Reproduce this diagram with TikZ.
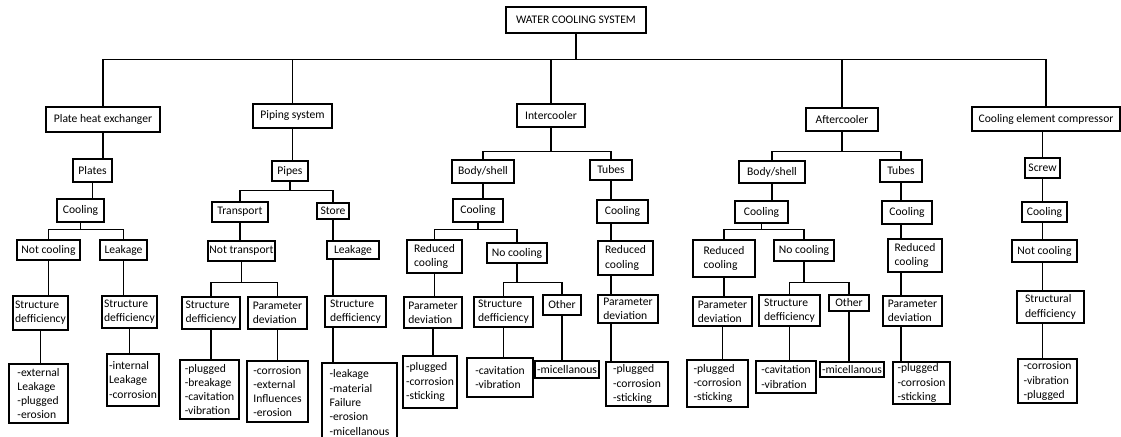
\documentclass[tikz,border=0pt]{standalone}
\usepackage{fontspec}
\setmainfont{Carlito}
\def\treebox#1(#2,#3)(#4,#5)#6% Syntax: name (left,top) (right,bottom) {text}
    { \node[box, minimum width={(#4-#2)*0.03cm}, minimum height={(#5-#3)*0.03cm}] (#1) at ({(#2+#4)/2},{(#3+#5)/2}) {#6}; }

\begin{document}
\begin{tikzpicture}[x=0.03cm, y=-0.03cm, line width=0.9pt,
    box/.style={draw, align=left, inner sep=1pt, font=\fontsize{9.9pt}{12.2pt}\selectfont}]
   \useasboundingbox (0,0) rectangle (1121,436);

   \treebox{wcs}(506,7)(646,33){WATER COOLING SYSTEM}

   % first level
   \treebox{phe}(46,107)(160,132){Plate heat exchanger}
   \treebox{pip}(253,104)(332,128){Piping system}
   \treebox{ic}(517,104)(585,127){Intercooler}
   \treebox{ac}(806,108)(878,131){Aftercooler}
   \treebox{cec}(972,107)(1120,131){Cooling element compressor}
   \draw (wcs.south) -- ++(0,26) -| (phe.north);
   \draw (wcs.south) -- ++(0,26) -| (pip.north);
   \draw (wcs.south) -- ++(0,26) -| (ic.north);
   \draw (wcs.south) -- ++(0,26) -| (ac.north);
   \draw (wcs.south) -- ++(0,26) -| (cec.north);

   % plate heat exchanger
   \treebox{plates}(73,159)(112,182){Plates}
   \treebox{coolA}(57,199)(104,222){Cooling}
   \treebox{notcoolA}(17,240)(80,260){Not cooling}
   \treebox{leakA}(100,240)(147,260){Leakage}
   \treebox{structA}(13,296)(68,330){Structure\\defficiency}
   \treebox{structB}(102,296)(157,328){Structure\\defficiency}
   \treebox{listA}(9,364)(68,423){-external\\Leakage\\-plugged\\-erosion}
   \treebox{listB}(107,354)(159,406){-internal\\Leakage\\-corrosion}
   \draw (phe.south) -- (phe.south |- plates.north);
   \draw (plates.south) -- (plates.south |- coolA.north);
   \draw (coolA.south) -- ++(0,7) -| (notcoolA.north);
   \draw (coolA.south) -- ++(0,7) -| (leakA.north);
   \draw (notcoolA.south) -- (notcoolA.south |- structA.north);
   \draw (leakA.south) -- (leakA.south |- structB.north);
   \draw (structA.south) -- (structA.south |- listA.north);
   \draw (structB.south) -- (structB.south |- listB.north);

   % piping system
   \treebox{pipes}(272,161)(308,181){Pipes}
   \treebox{transport}(212,202)(268,222){Transport}
   \treebox{store}(317,203)(349,219){Store}
   \treebox{nottrans}(208,241)(275,261){Not transport}
   \treebox{leakC}(327,241)(379,259){Leakage}
   \treebox{structC}(182,297)(240,329){Structure\\defficiency}
   \treebox{paramC}(248,297)(307,329){Parameter\\deviation}
   \treebox{structD}(325,296)(386,327){Structure\\defficiency}
   \treebox{listC}(180,360)(239,419){-plugged\\-breakage\\-cavitation\\-vibration}
   \treebox{listD}(247,361)(308,422){-corrosion\\-external\\Influences\\-erosion}
   \treebox{listE}(322,363)(397,442){-leakage\\-material\\Failure\\-erosion\\-micellanous}
   \draw (pip.south) -- (pip.south |- pipes.north);
   \draw (pipes.south) -- ++(0,9) -| (transport.north);
   \draw (pipes.south) -- ++(0,9) -| (store.north);
   \draw (transport.south) -- (transport.south |- nottrans.north);
   \draw (nottrans.south) -- ++(0,21) -| (structC.north);
   \draw (nottrans.south) -- ++(0,21) -| (paramC.north);
   \draw (structC.south) -- (structC.south |- listC.north);
   \draw (paramC.south) -- (paramC.south |- listD.north);
   \draw (store.south) -- (store.south |- leakC.north);
   \draw (leakC.south -| store) -- (structD.north -| store);
   \draw (structD.south -| store) -- (listE.north -| store);

   % intercooler
   \treebox{bodyE}(452,160)(514,183){Body/shell}
   \treebox{tubesE}(590,160)(632,180){Tubes}
   \treebox{coolE}(453,199)(503,222){Cooling}
   \treebox{coolF}(597,200)(648,223){Cooling}
   \treebox{reduE}(407,240)(462,273){Reduced\\cooling}
   \treebox{nocoolE}(487,243)(547,263){No cooling}
   \treebox{reduF}(598,241)(653,275){Reduced\\cooling}
   \treebox{paramE}(404,297)(462,328){Parameter\\deviation}
   \treebox{structE}(474,297)(533,327){Structure\\defficiency}
   \treebox{otherE}(543,295)(581,315){Other}
   \treebox{paramF}(598,295)(658,323){Parameter\\deviation}
   \treebox{listF}(403,356)(457,408){-plugged\\-corrosion\\-sticking}
   \treebox{listG}(467,358)(533,397){-cavitation\\-vibration}
   \treebox{listH}(535,361)(599,378){-micellanous}
   \treebox{listI}(606,362)(668,406){-plugged\\-corrosion\\-sticking}
   \draw (ic.south) -- ++(0,24) -| (bodyE.north);
   \draw (ic.south) -- ++(0,24) -| (tubesE.north);
   \draw (bodyE.south) -- (bodyE.south |- coolE.north);
   \draw (tubesE.south) -- (tubesE.south |- coolF.north);
   \draw (coolE.south) -- ++(0,7) -| (reduE.north);
   \draw (coolE.south) -- ++(0,7) -| (nocoolE.north);
   \draw (reduE.south) -- (reduE.south |- paramE.north);
   \draw (paramE.south) -- (paramE.south |- listF.north);
   \draw (nocoolE.south) -- ++(0,19) -| (structE.north);
   \draw (nocoolE.south) -- ++(0,19) -| (otherE.north);
   \draw (structE.south) -- (structE.south |- listG.north);
   \draw (otherE.south) -- (otherE.south |- listH.north);
   \draw (coolF.south -| tubesE) -- (reduF.north -| tubesE);
   \draw (reduF.south -| tubesE) -- (paramF.north -| tubesE);
   \draw (paramF.south -| tubesE) -- (listI.north -| tubesE);

   % aftercooler
   \treebox{bodyJ}(739,161)(805,183){Body/shell}
   \treebox{tubesJ}(880,160)(922,182){Tubes}
   \treebox{coolJ}(735,201)(788,223){Cooling}
   \treebox{coolK}(882,201)(932,224){Cooling}
   \treebox{reduJ}(693,240)(755,277){Reduced\\cooling}
   \treebox{nocoolJ}(774,240)(834,261){No cooling}
   \treebox{reduK}(888,239)(942,272){Reduced\\cooling}
   \treebox{paramJ}(693,297)(752,326){Parameter\\deviation}
   \treebox{structJ}(759,295)(820,326){Structure\\defficiency}
   \treebox{otherJ}(829,295)(869,311){Other}
   \treebox{paramK}(883,296)(942,326){Parameter\\deviation}
   \treebox{listJ}(687,360)(748,407){-plugged\\-corrosion\\-sticking}
   \treebox{listK}(756,361)(816,393){-cavitation\\-vibration}
   \treebox{listL}(820,362)(884,377){-micellanous}
   \treebox{listM}(893,362)(950,404){-plugged\\-corrosion\\-sticking}
   \draw (ac.south) -- ++(0,20) -| (bodyJ.north);
   \draw (ac.south) -- ++(0,20) -| (tubesJ.north);
   \draw (bodyJ.south) -- (bodyJ.south |- coolJ.north);
   \draw (tubesJ.south) -- (tubesJ.south |- coolK.north);
   \draw (coolJ.south) -- ++(0,6) -| (reduJ.north);
   \draw (coolJ.south) -- ++(0,6) -| (nocoolJ.north);
   \draw (reduJ.south) -- (reduJ.south |- paramJ.north);
   \draw (paramJ.south) -- (paramJ.south |- listJ.north);
   \draw (nocoolJ.south) -- ++(0,21) -| (structJ.north);
   \draw (nocoolJ.south) -- ++(0,21) -| (otherJ.north);
   \draw (structJ.south) -- (structJ.south |- listK.north);
   \draw (otherJ.south) -- (otherJ.south |- listL.north);
   \draw (coolK.south -| tubesJ) -- (reduK.north -| tubesJ);
   \draw (reduK.south -| tubesJ) -- (paramK.north -| tubesJ);
   \draw (paramK.south -| tubesJ) -- (listM.north -| tubesJ);

   % cooling element compressor
   \treebox{screw}(1025,158)(1060,178){Screw}
   \treebox{coolN}(1022,202)(1067,222){Cooling}
   \treebox{notcoolN}(1012,240)(1077,262){Not cooling}
   \treebox{structN}(1017,291)(1084,323){Structural\\defficiency}
   \treebox{listN}(1018,359)(1077,403){-corrosion\\-vibration\\-plugged}
   \draw (cec.south -| screw) -- (screw.north);
   \draw (screw.south) -- (coolN.north -| screw);
   \draw (coolN.south -| screw) -- (notcoolN.north -| screw);
   \draw (notcoolN.south -| screw) -- (structN.north -| screw);
   \draw (structN.south -| screw) -- (listN.north -| screw);
\end{tikzpicture}
\end{document}
